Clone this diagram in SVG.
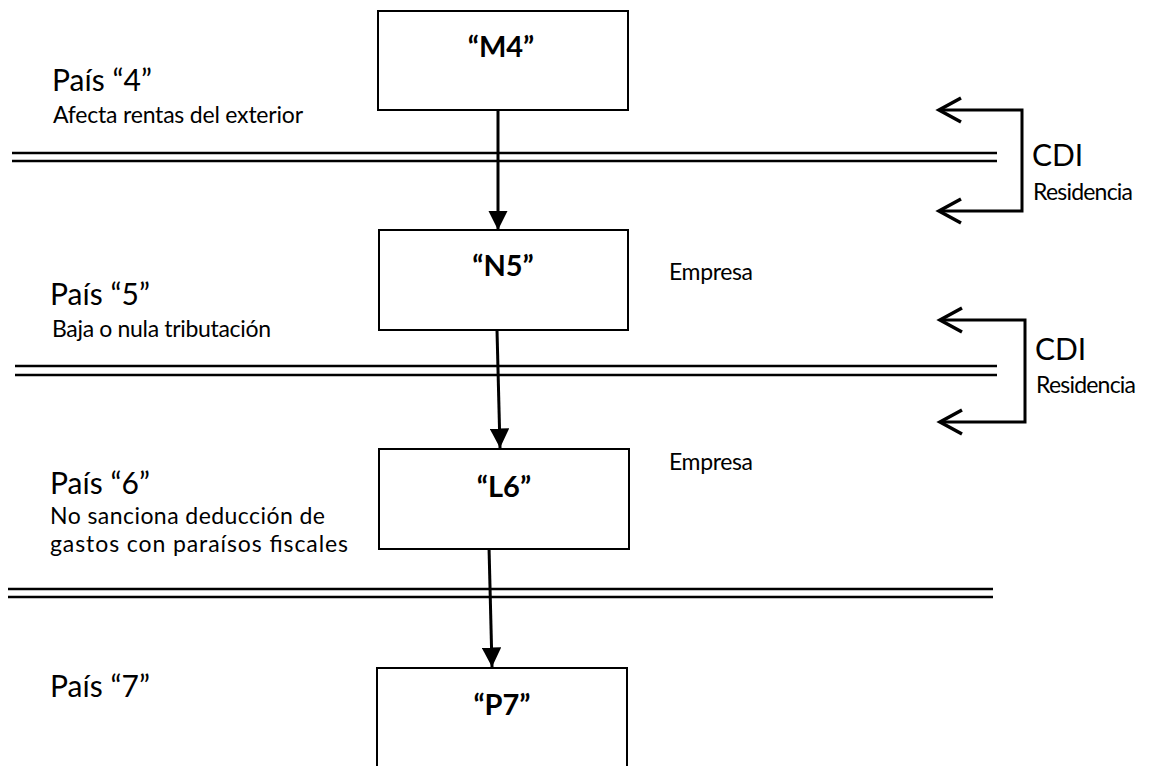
<svg xmlns="http://www.w3.org/2000/svg" width="1152" height="766" viewBox="0 0 1152 766">
<style>
  .box { fill: #fff; stroke: #000; stroke-width: 2; }
  .lbl { font-family: Lato, "Liberation Sans", sans-serif; font-weight: bold; font-size: 29px; fill: #000; text-anchor: middle; }
  .big { font-family: Lato, "Liberation Sans", sans-serif; font-size: 30px; fill: #000; }
  .sm { font-family: Lato, "Liberation Sans", sans-serif; font-size: 23px; fill: #000; }
  .rule { stroke: #000; stroke-width: 2.5; fill: none; }
  .conn { stroke: #000; stroke-width: 3; fill: none; }
  .brk { stroke: #000; stroke-width: 3; fill: none; stroke-linecap: butt; }
  .chev { stroke: #000; stroke-width: 3.5; fill: none; stroke-linejoin: miter; }
</style>
<defs>
  <marker id="ah" viewBox="0 0 10 10" refX="10" refY="5" markerWidth="6.5" markerHeight="6.5" markerUnits="strokeWidth" orient="auto">
    <path d="M0,0 L10,5 L0,10 z" fill="#000"/>
  </marker>
</defs>
<rect width="1152" height="766" fill="#fff"/>

<g id="borders">
  <line class="rule" x1="12" y1="153" x2="997" y2="153"/>
  <line class="rule" x1="12" y1="161" x2="997" y2="161"/>
  <line class="rule" x1="15" y1="366" x2="997" y2="366"/>
  <line class="rule" x1="15" y1="375" x2="997" y2="375"/>
  <line class="rule" x1="8" y1="589" x2="993" y2="589"/>
  <line class="rule" x1="8" y1="597" x2="993" y2="597"/>
</g>

<g id="country-labels">
  <text class="big" x="52" y="91" textLength="100">País “4”</text>
  <text class="sm" x="53" y="123" textLength="250">Afecta rentas del exterior</text>
  <text class="big" x="50" y="305" textLength="100">País “5”</text>
  <text class="sm" x="52" y="337" textLength="219">Baja o nula tributación</text>
  <text class="big" x="50" y="494" textLength="100">País “6”</text>
  <text class="sm" x="50" y="524" textLength="275">No sanciona deducción de</text>
  <text class="sm" x="50" y="552" textLength="298">gastos con paraísos fiscales</text>
  <text class="big" x="50" y="697" textLength="100">País “7”</text>
</g>

<g id="connectors">
  <line class="conn" x1="498" y1="110" x2="498" y2="230" marker-end="url(#ah)"/>
  <line class="conn" x1="497" y1="330" x2="500" y2="448" marker-end="url(#ah)"/>
  <line class="conn" x1="489" y1="547" x2="492" y2="667" marker-end="url(#ah)"/>
</g>

<g id="M4">
  <rect class="box" x="378" y="11" width="250" height="99"/>
  <text class="lbl" x="501" y="57">“M4”</text>
</g>
<g id="N5">
  <rect class="box" x="379" y="230" width="249" height="100"/>
  <text class="lbl" x="503" y="276">“N5”</text>
</g>
<g id="L6">
  <rect class="box" x="379" y="449" width="250" height="100"/>
  <text class="lbl" x="504" y="497">“L6”</text>
</g>
<g id="P7">
  <rect class="box" x="377" y="668" width="250" height="120"/>
  <text class="lbl" x="502" y="715">“P7”</text>
</g>

<g id="empresa-labels">
  <text class="sm" x="669" y="280" textLength="84">Empresa</text>
  <text class="sm" x="669" y="470" textLength="84">Empresa</text>
</g>

<g id="cdi-1">
  <path class="brk" d="M940,110 H1022 V211 H940"/>
  <path class="chev" d="M961,98 L939,110 L961,122"/>
  <path class="chev" d="M961,199 L939,211 L961,223"/>
  <text class="big" x="1032" y="166">CDI</text>
  <text class="sm" x="1033" y="200" textLength="100">Residencia</text>
</g>
<g id="cdi-2">
  <path class="brk" d="M941,320 H1025 V422 H941"/>
  <path class="chev" d="M962,308 L940,320 L962,332"/>
  <path class="chev" d="M962,410 L940,422 L962,434"/>
  <text class="big" x="1035" y="360">CDI</text>
  <text class="sm" x="1036" y="393" textLength="100">Residencia</text>
</g>
</svg>
